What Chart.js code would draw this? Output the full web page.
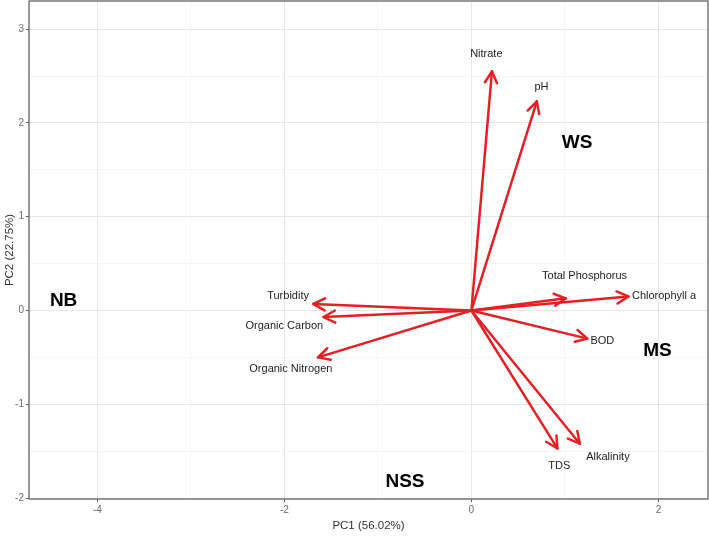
<!DOCTYPE html>
<html>
<head>
<meta charset="utf-8">
<script src="https://cdn.jsdelivr.net/npm/chart.js@4.4.0/dist/chart.umd.min.js"></script>
<style>
  html, body { margin: 0; padding: 0; background: #fff; }
  #wrap { width: 709px; height: 536px; }
</style>
</head>
<body>
<div id="wrap"><canvas id="myChart"></canvas></div>
<script>
// PCA loadings (arrow tips)
const variables = ['Nitrate', 'pH', 'Turbidity', 'Organic Carbon', 'Organic Nitrogen',
                   'Total Phosphorus', 'Chlorophyll a', 'BOD', 'TDS', 'Alkalinity'];
const pc1 = [0.22, 0.70, -1.69, -1.58, -1.64, 1.01, 1.68, 1.24, 0.92, 1.16];
const pc2 = [2.55, 2.23, 0.07, -0.07, -0.50, 0.13, 0.15, -0.30, -1.47, -1.42];

// where each variable name sits (data units)
const labelX = [0.16, 0.75, -1.96, -2.00, -1.93, 1.21, 2.06, 1.40, 0.94, 1.46];
const labelY = [2.74, 2.38, 0.15, -0.17, -0.62, 0.37, 0.15, -0.32, -1.66, -1.56];

// site groups
const groups = ['NB', 'WS', 'MS', 'NSS'];
const groupX = [-4.36, 1.13, 1.99, -0.71];
const groupY = [0.10, 1.79, -0.43, -1.83];

const xTickLabels = [-4, -2, 0, 2];
const yTickLabels = [-2, -1, 0, 1, 2, 3];
const xGrid = [-4, -3, -2, -1, 0, 1, 2];
const yGrid = [-2, -1.5, -1, -0.5, 0, 0.5, 1, 1.5, 2, 2.5, 3];

const RED = 'rgb(229, 32, 36)';

const datasets = variables.map((name, i) => ({
    label: name,
    data: [{x: 0, y: 0}, {x: pc1[i], y: pc2[i]}],
    showLine: true,
    borderColor: RED,
    borderWidth: 2.5,
    pointRadius: 0,
    borderCapStyle: 'round'
}));

const arrowPlugin = {
    id: 'arrows',
    afterDatasetsDraw(chart) {
        const c = chart.ctx;
        const xs = chart.scales.x, ys = chart.scales.y;
        c.save();
        c.strokeStyle = RED;
        c.lineWidth = 2.5;
        c.lineCap = 'round';
        c.lineJoin = 'round';
        chart.data.datasets.forEach((ds, i) => {
            const x0 = xs.getPixelForValue(0), y0 = ys.getPixelForValue(0);
            const x1 = xs.getPixelForValue(pc1[i]), y1 = ys.getPixelForValue(pc2[i]);
            const ang = Math.atan2(y1 - y0, x1 - x0);
            const len = 13, spread = Math.PI / 6.5;
            c.beginPath();
            c.moveTo(x1 - len * Math.cos(ang - spread), y1 - len * Math.sin(ang - spread));
            c.lineTo(x1, y1);
            c.lineTo(x1 - len * Math.cos(ang + spread), y1 - len * Math.sin(ang + spread));
            c.stroke();
        });

        // variable names
        c.fillStyle = '#222';
        c.font = '11px "Liberation Sans", Arial, sans-serif';
        c.textAlign = 'center';
        c.textBaseline = 'middle';
        variables.forEach((name, i) => {
            c.fillText(name, xs.getPixelForValue(labelX[i]), ys.getPixelForValue(labelY[i]));
        });

        // group names
        c.fillStyle = '#000';
        c.font = 'bold 19px "Liberation Sans", Arial, sans-serif';
        groups.forEach((g, i) => {
            c.fillText(g, xs.getPixelForValue(groupX[i]), ys.getPixelForValue(groupY[i]));
        });

        // panel border
        const a = chart.chartArea;
        c.strokeStyle = '#777';
        c.lineWidth = 1.5;
        c.strokeRect(a.left, a.top, a.right - a.left, a.bottom - a.top);
        c.restore();
    }
};

const ctx = document.getElementById('myChart').getContext('2d');
const myChart = new Chart(ctx, {
    type: 'scatter',
    data: { datasets: datasets },
    options: {
        responsive: true,
        maintainAspectRatio: false,
        animation: false,
        layout: { padding: { top: 1, right: 1, left: 0, bottom: 0 } },
        plugins: {
            legend: { display: false },
            tooltip: { enabled: false }
        },
        scales: {
            x: {
                type: 'linear',
                min: -4.73,
                max: 2.53,
                afterBuildTicks: s => { s.ticks = xGrid.map(v => ({value: v})); },
                afterFit: s => { s.height = 37; s.paddingLeft = 0; s.paddingRight = 0; },
                border: { display: false },
                grid: {
                    color: c => xTickLabels.includes(c.tick.value) ? '#e6e6e6' : '#f3f3f3',
                    lineWidth: c => xTickLabels.includes(c.tick.value) ? 1 : 0.8,
                    tickColor: c => xTickLabels.includes(c.tick.value) ? '#555' : 'rgba(0,0,0,0)',
                    tickLength: 3,
                    tickWidth: 1
                },
                ticks: {
                    autoSkip: false,
                    maxRotation: 0,
                    padding: 2,
                    color: '#6b6b6b',
                    font: { family: '"Liberation Sans", Arial, sans-serif', size: 10 },
                    callback: v => xTickLabels.includes(v) ? String(v) : ''
                },
                title: {
                    display: true,
                    text: 'PC1 (56.02%)',
                    color: '#333',
                    font: { family: '"Liberation Sans", Arial, sans-serif', size: 11.5 },
                    padding: { top: 0, bottom: 3 }
                }
            },
            y: {
                type: 'linear',
                min: -2.01,
                max: 3.30,
                afterBuildTicks: s => { s.ticks = yGrid.map(v => ({value: v})); },
                afterFit: s => { s.width = 29; s.paddingTop = 0; s.paddingBottom = 0; },
                border: { display: false },
                grid: {
                    color: c => yTickLabels.includes(c.tick.value) ? '#e6e6e6' : '#f3f3f3',
                    lineWidth: c => yTickLabels.includes(c.tick.value) ? 1 : 0.8,
                    tickColor: c => yTickLabels.includes(c.tick.value) ? '#555' : 'rgba(0,0,0,0)',
                    tickLength: 3,
                    tickWidth: 1
                },
                ticks: {
                    autoSkip: false,
                    padding: 2,
                    color: '#6b6b6b',
                    font: { family: '"Liberation Sans", Arial, sans-serif', size: 10 },
                    callback: v => yTickLabels.includes(v) ? String(v) : ''
                },
                title: {
                    display: true,
                    text: 'PC2 (22.75%)',
                    color: '#333',
                    font: { family: '"Liberation Sans", Arial, sans-serif', size: 11.5 },
                    padding: { top: 3, bottom: 0 }
                }
            }
        }
    },
    plugins: [arrowPlugin]
});
</script>
</body>
</html>
